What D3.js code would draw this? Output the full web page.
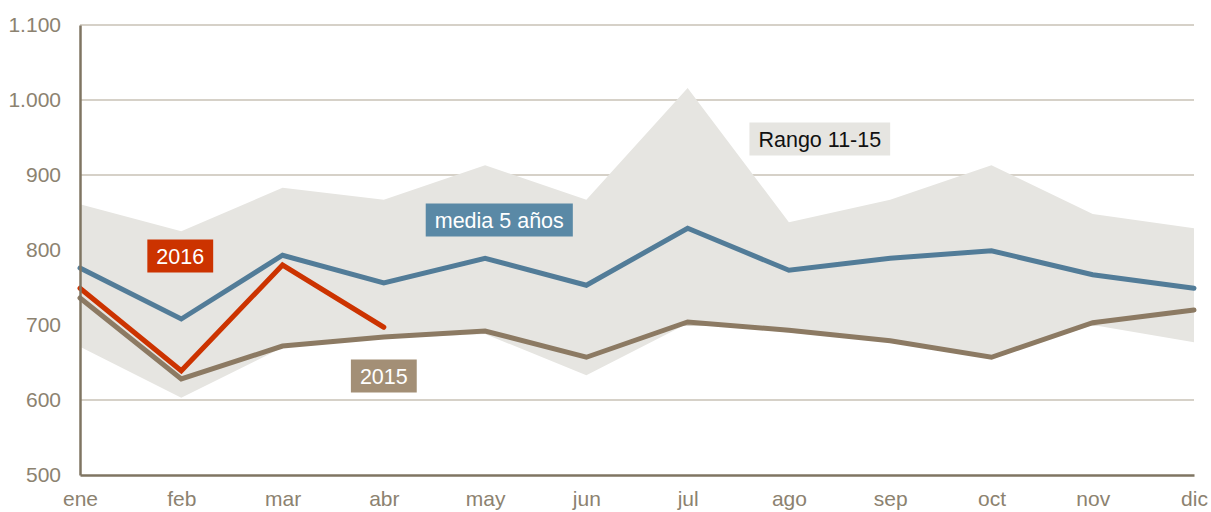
<!DOCTYPE html>
<html>
<head>
<meta charset="utf-8">
<script src="https://cdn.jsdelivr.net/npm/d3@7"></script>
<style>
body { margin: 0; background: #fff; }
text { font-family: "Liberation Sans", Arial, sans-serif; }
</style>
</head>
<body>
<script>
/* datos */
var months = ["ene", "feb", "mar", "abr", "may", "jun", "jul", "ago", "sep", "oct", "nov", "dic"]
var media5 = [776, 708, 793, 756, 789, 753, 829, 773, 789, 799, 767, 749]
var y2015 = [736, 628, 672, 684, 692, 657, 704, 693, 679, 657, 703, 720]
var y2016 = [749, 639, 780, 697]
var rangoMax = [861, 825, 883, 867, 913, 867, 1016, 837, 867, 913, 848, 829]
var rangoMin = [671, 603, 670, 682, 688, 633, 702, 690, 677, 655, 700, 677]
var yTicks = [500, 600, 700, 800, 900, 1000, 1100]

var width = 1211, height = 512

var svg = d3.select("body").append("svg")
	.attr("width", width)
	.attr("height", height)

var x = d3.scalePoint().domain(months).range([80, 1194])
var y = d3.scaleLinear().domain([500, 1100]).range([475, 25])

var fmt = function(d){ return d3.format(",")(d).replace(",", ".") }

/* rejilla */
svg.append("g").selectAll("line")
	.data(yTicks.slice(1))
	.enter().append("line")
	.attr("x1", 80).attr("x2", 1194)
	.attr("y1", function(d){ return y(d) })
	.attr("y2", function(d){ return y(d) })
	.attr("stroke", "#c9c2b6")
	.attr("stroke-width", 1.5)

/* rango */
var band = months.map(function(m, i){ return {m: m, lo: rangoMin[i], hi: rangoMax[i]} })
svg.append("path")
	.datum(band)
	.attr("fill", "#e6e5e1")
	.attr("d", d3.area()
		.x(function(d){ return x(d.m) })
		.y0(function(d){ return y(d.lo) })
		.y1(function(d){ return y(d.hi) }))

function drawLine(vals, color){
	svg.append("path")
		.datum(vals)
		.attr("fill", "none")
		.attr("stroke", color)
		.attr("stroke-width", 5)
		.attr("stroke-linejoin", "miter")
		.attr("stroke-linecap", "round")
		.attr("d", d3.line()
			.x(function(d, i){ return x(months[i]) })
			.y(function(d){ return y(d) }))
}

drawLine(y2015, "#8c7a63")
drawLine(media5, "#527c98")
drawLine(y2016, "#cc3300")

/* ejes */
var yAxis = svg.append("g")
	.attr("transform", "translate(80,0)")
	.call(d3.axisLeft(y).tickValues(yTicks).tickSize(0).tickPadding(19).tickFormat(fmt))
yAxis.select(".domain").attr("stroke", "#7f7562").attr("stroke-width", 2.5)

var xAxis = svg.append("g")
	.attr("transform", "translate(0,475)")
	.call(d3.axisBottom(x).tickSize(0).tickPadding(16))
xAxis.select(".domain").attr("stroke", "#7f7562").attr("stroke-width", 2.5)

svg.selectAll(".tick text")
	.attr("fill", "#8c8270")
	.style("font-size", "21px")
	.style("font-family", "Liberation Sans, Arial, sans-serif")

/* etiquetas: posición en meses (índice) y valor */
var labels = [
	{text: "2016", m: 0.99, v: 792, bg: "#cc3300", fg: "#fff"},
	{text: "media 5 años", m: 4.14, v: 840, bg: "#5a89a6", fg: "#fff"},
	{text: "Rango 11-15", m: 7.305, v: 948, bg: "#e6e5e1", fg: "#111"},
	{text: "2015", m: 3.0, v: 632, bg: "#a38f76", fg: "#fff"}
]
var step = x.step()
labels.forEach(function(l){
	var g = svg.append("g")
		.attr("transform", "translate(" + (80 + l.m * step) + "," + y(l.v) + ")")
	var t = g.append("text")
		.attr("text-anchor", "middle")
		.attr("dy", "0.36em")
		.attr("fill", l.fg)
		.style("font-size", "21.5px")
		.text(l.text)
	var w = t.node().getComputedTextLength() + 18
	g.insert("rect", "text")
		.attr("x", -w / 2).attr("y", -16.5)
		.attr("width", w).attr("height", 33)
		.attr("fill", l.bg)
})
</script>
</body>
</html>
